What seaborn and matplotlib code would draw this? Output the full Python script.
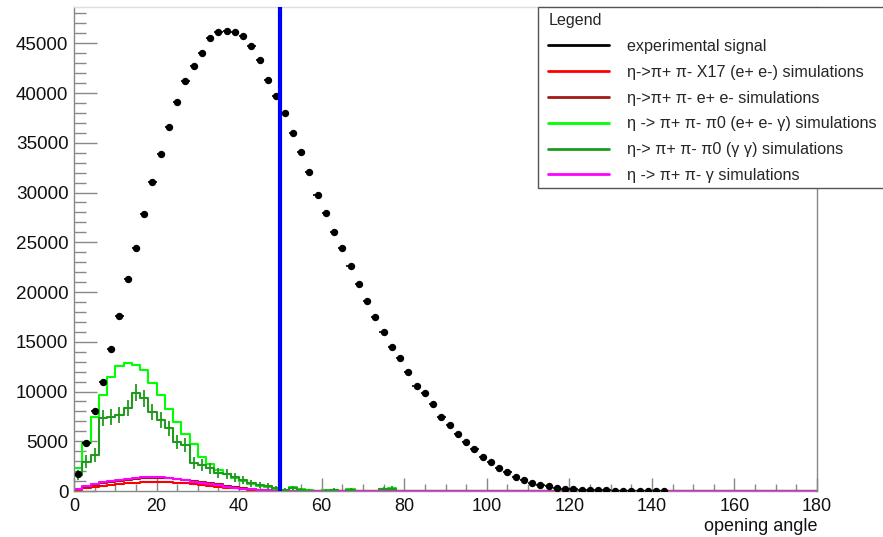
import numpy as np
import pandas as pd
import matplotlib
matplotlib.use("Agg")
import matplotlib.pyplot as plt
import seaborn as sns
from matplotlib.lines import Line2D
from matplotlib.patches import Rectangle
from matplotlib.ticker import MultipleLocator

sns.set_theme(style="white")
plt.rcParams['font.family'] = ['Liberation Sans', 'DejaVu Sans']

# 2-degree binning of the opening angle, 0..180
bin_edges = np.arange(0, 182, 2)
bin_centers = bin_edges[:-1] + 1
n_bins = len(bin_centers)

# experimental signal (bin centres 1..143)
signal_counts = [
    1700, 4820, 8060, 10970, 14260, 17600, 21290, 24400, 27810, 31100,
    33900, 36580, 39060, 41170, 42740, 44010, 45580, 46180, 46250, 46110,
    45750, 44680, 43340, 41330, 39730, 38020, 36000, 34100, 32020, 29750,
    27980, 26000, 24400, 22660, 20780, 19110, 17470, 15990, 14490, 13320,
    11920, 10570, 9840, 8730, 7460, 6660, 5720, 4890, 4220, 3380,
    2880, 2310, 1880, 1440, 1130, 800, 630, 470, 350, 250,
    170, 130, 100, 80, 60, 45, 35, 25, 18, 12,
    8, 5,
]

# simulations, first 40 bins (0..80 deg); remaining bins are empty
sim_x17_ee = [
    150, 300, 420, 530, 620, 700, 780, 840, 900, 940,
    940, 900, 850, 780, 700, 610, 520, 430, 340, 260,
    190, 130, 80, 50, 25, 10, 0, 0, 0, 0,
    0, 0, 0, 0, 0, 0, 0, 0, 0, 0,
]
sim_ee = [
    200, 400, 600, 780, 920, 1050, 1150, 1230, 1290, 1330,
    1340, 1300, 1240, 1150, 1050, 930, 800, 670, 540, 420,
    310, 220, 140, 80, 40, 20, 10, 0, 0, 0,
    0, 0, 0, 0, 0, 0, 0, 0, 0, 0,
]
sim_pi0_eeg = [
    2300, 4790, 7460, 9640, 11480, 12550, 12880, 12650, 12150, 10810,
    9640, 8200, 6900, 5700, 4700, 3450, 2700, 2100, 1700, 1300,
    1000, 750, 550, 400, 250, 150, 400, 200, 100, 50,
    100, 100, 50, 200, 50, 0, 50, 250, 300, 50,
]
sim_pi0_gg = [
    1600, 2940, 3610, 7300, 7460, 7630, 8300, 9900, 9300, 7960,
    7130, 6300, 4950, 4620, 2780, 2610, 2280, 1800, 1700, 1400,
    1100, 770, 600, 550, 270, 150, 300, 100, 50, 0,
    50, 100, 0, 150, 0, 0, 0, 200, 250, 0,
]
sim_pi0_gg_err = [
    500, 650, 700, 800, 800, 800, 800, 850, 850, 800,
    800, 750, 700, 700, 600, 600, 550, 500, 500, 450,
    400, 350, 300, 300, 250, 200, 250, 200, 150, 0,
    150, 200, 0, 200, 0, 0, 0, 250, 250, 0,
]
sim_gamma = [
    220, 480, 700, 880, 1020, 1130, 1230, 1300, 1360, 1400,
    1380, 1300, 1200, 1080, 950, 820, 700, 570, 450, 340,
    240, 160, 100, 60, 30, 15, 0, 0, 0, 0,
    0, 0, 0, 0, 0, 0, 0, 0, 0, 0,
]

cut_angle = 50

labels = [
    "experimental signal",
    "η->π+ π- X17 (e+ e-) simulations",
    "η->π+ π- e+ e- simulations",
    "η -> π+ π- π0 (e+ e- γ) simulations",
    "η-> π+ π- π0 (γ γ) simulations",
    "η -> π+ π- γ simulations",
]
colors = ["black", "#ff0000", "#a01818", "#00ff00", "#1f9a1f", "#ff00ff"]


def full(values):
    arr = np.zeros(n_bins)
    arr[:len(values)] = values
    return arr


W, H = 883, 537
fig = plt.figure(figsize=(W / 100, H / 100), dpi=100)
ax = fig.add_axes([74 / W, (537 - 491) / H, (817 - 74) / W, (491 - 7) / H])

sim_sets = [
    (sim_pi0_eeg, colors[3]),
    (sim_pi0_gg, colors[4]),
    (sim_x17_ee, colors[1]),
    (sim_ee, colors[2]),
    (sim_gamma, colors[5]),
]
for values, col in sim_sets:
    hist_df = pd.DataFrame({"angle": bin_centers, "w": full(values)})
    sns.histplot(data=hist_df, x="angle", weights="w", binwidth=2,
                 binrange=(0, 180), element="step", fill=False, color=col,
                 linewidth=1.5, ax=ax)

# uncertainty crosses on the (γ γ) channel
gg = full(sim_pi0_gg)
gg_err = full(sim_pi0_gg_err)
mask = gg > 0
ax.errorbar(bin_centers[mask], gg[mask], yerr=gg_err[mask], xerr=1,
            fmt="none", ecolor=colors[4], elinewidth=1.3, capsize=0)

# experimental points
sig_x = bin_centers[:len(signal_counts)]
sig_df = pd.DataFrame({"angle": sig_x, "counts": signal_counts})
ax.errorbar(sig_df["angle"], sig_df["counts"], xerr=1, fmt="none",
            ecolor="black", elinewidth=1.2, capsize=0)
sns.scatterplot(data=sig_df, x="angle", y="counts", color="black", s=28,
                edgecolor="black", linewidth=0, ax=ax, zorder=5)

ax.axvline(cut_angle, color="#0000ff", linewidth=3, zorder=6)

ax.set_xlim(0, 180)
ax.set_ylim(0, 48650)
ax.xaxis.set_major_locator(MultipleLocator(20))
ax.xaxis.set_minor_locator(MultipleLocator(5))
ax.yaxis.set_major_locator(MultipleLocator(5000))
ax.yaxis.set_minor_locator(MultipleLocator(1000))
ax.tick_params(axis="x", which="major", direction="in", length=9.4, width=1,
               color="#888888", labelsize=13, pad=5, labelcolor="#111111")
ax.tick_params(axis="x", which="minor", direction="in", length=5.4, width=1,
               color="#888888")
ax.tick_params(axis="y", which="major", direction="in", length=16.5, width=1,
               color="#888888", labelsize=13.6, pad=4, labelcolor="#111111")
ax.tick_params(axis="y", which="minor", direction="in", length=8.6, width=1,
               color="#888888")
ax.tick_params(bottom=True, left=True, top=False, right=False, which="both")

for side in ["left", "bottom", "right"]:
    ax.spines[side].set_color("#888888")
    ax.spines[side].set_linewidth(1)
ax.spines["top"].set_color("#dddddd")
ax.spines["top"].set_linewidth(1)

ax.set_ylabel("")
ax.set_xlabel("opening angle", loc="right", fontsize=13, color="#111111",
              labelpad=2)

# legend box runs off the right edge of the canvas
fig.patches.append(Rectangle((538 / W, 1 - 188 / H), (920 - 538) / W,
                             (188 - 7) / H, transform=fig.transFigure,
                             facecolor="white", edgecolor="#555555",
                             linewidth=1, zorder=4))
handles = [Line2D([], [], color=c, linewidth=2) for c in colors]
leg = fig.legend(handles, labels, loc="upper left",
                 bbox_to_anchor=(541 / W, 1 - 6 / H), borderaxespad=0,
                 title="Legend", alignment="left", frameon=False,
                 fontsize=11.6, title_fontsize=11.6, handlelength=3.8,
                 handletextpad=1.1, labelspacing=0.67, borderpad=0.45)
leg.set_zorder(5)

fig.savefig("out.png", dpi=100, facecolor="white")
